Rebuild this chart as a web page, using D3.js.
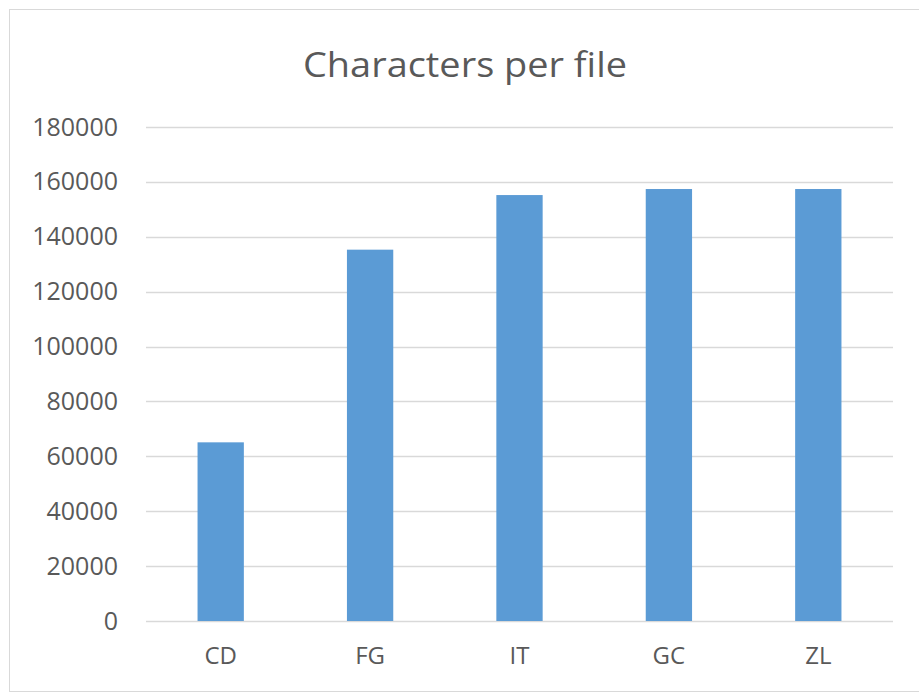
<!DOCTYPE html>
<html>
<head>
<meta charset="utf-8">
<script src="https://cdn.jsdelivr.net/npm/d3@7"></script>
<style>
  body { margin: 0; background: #fff; }
  text { font-family: "Open Sans", sans-serif; fill: #595959; }
</style>
</head>
<body>
<script>
var categories = ["CD", "FG", "IT", "GC", "ZL"];
var values = [65100, 135300, 155200, 157400, 157400];
var yTicks = [0, 20000, 40000, 60000, 80000, 100000, 120000, 140000, 160000, 180000];
var title = "Characters per file";

var width = 919, height = 693;
var margin = {top: 127, right: 26, bottom: 72, left: 146};

var svg = d3.select('body').append('svg')
    .attr('width', width)
    .attr('height', height);

// chart frame
svg.append('rect')
    .attr('x', 9.5).attr('y', 9.5)
    .attr('width', width + 20).attr('height', 682)
    .attr('fill', '#fff')
    .attr('stroke', '#d9d9d9');

svg.append('text')
    .attr('x', 465).attr('y', 77)
    .attr('text-anchor', 'middle')
    .attr('textLength', 324)
    .attr('lengthAdjust', 'spacingAndGlyphs')
    .style('font-size', '34px')
    .text(title);

var x = d3.scaleBand()
    .domain(categories)
    .range([margin.left, width - margin.right])
    .paddingInner(0.69)
    .paddingOuter(0.345);

var y = d3.scaleLinear()
    .domain([0, 180000])
    .range([height - margin.bottom, margin.top]);

// gridlines
svg.append('g')
    .selectAll('line')
    .data(yTicks)
  .enter().append('line')
    .attr('x1', margin.left)
    .attr('x2', width - margin.right)
    .attr('y1', function(d) { return Math.round(y(d)) + 0.5; })
    .attr('y2', function(d) { return Math.round(y(d)) + 0.5; })
    .attr('stroke', '#d9d9d9')
    .attr('stroke-width', 1.5);

// y axis labels
var yAxis = d3.axisLeft(y).tickValues(yTicks).tickFormat(d3.format('d')).tickSize(0).tickPadding(0);
var gy = svg.append('g')
    .attr('transform', 'translate(118,0)')
    .call(yAxis);
gy.select('.domain').remove();
gy.selectAll('text')
    .style('font-size', '25px')
    .attr('fill', '#595959');

// bars
svg.append('g')
    .selectAll('rect')
    .data(values)
  .enter().append('rect')
    .attr('x', function(d, i) { return x(categories[i]); })
    .attr('width', x.bandwidth())
    .attr('y', function(d) { return y(d); })
    .attr('height', function(d) { return y(0) - y(d); })
    .attr('fill', '#5b9bd5');

// x axis labels
var xAxis = d3.axisBottom(x).tickSize(0).tickPadding(0);
var gx = svg.append('g')
    .attr('transform', 'translate(0,' + (y(0) + 26) + ')')
    .call(xAxis);
gx.select('.domain').remove();
gx.selectAll('text')
    .style('font-size', '24px')
    .attr('fill', '#595959');
</script>
</body>
</html>
